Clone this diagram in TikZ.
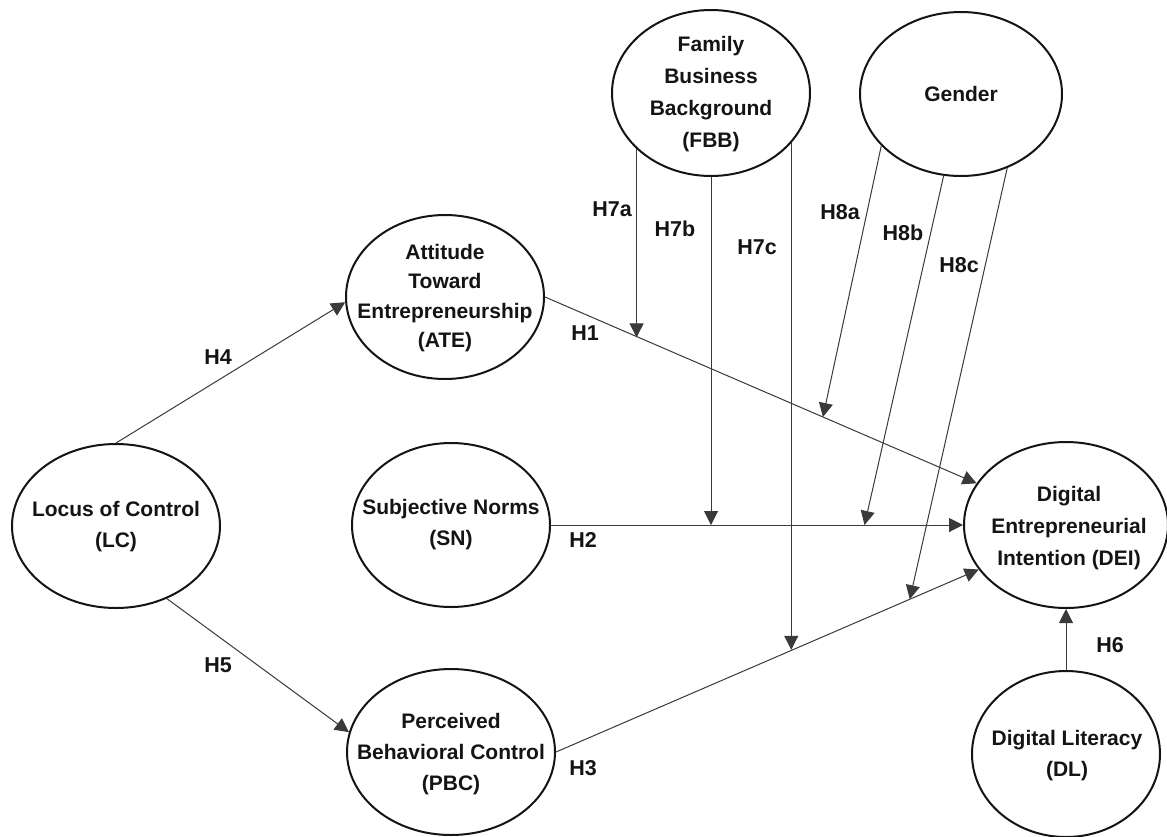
\documentclass[tikz,border=0pt]{standalone}
\usepackage{fontspec}
\setmainfont{Liberation Sans}
\usetikzlibrary{shapes.geometric,arrows.meta,calc}
\definecolor{ink}{HTML}{141414}
\definecolor{edgec}{HTML}{3A3A3A}
\begin{document}
\begin{tikzpicture}[x=1pt,y=-1pt,
  var/.style 2 args={draw=ink, line width=2pt, ellipse, inner sep=0pt,
    minimum width=#1, minimum height=#2},
  txt/.style={font=\fontsize{21}{31}\selectfont\bfseries, align=center, text=ink, inner sep=0pt},
  hl/.style={font=\fontsize{21.5}{25}\selectfont\bfseries, text=ink, inner sep=0pt},
  arr/.style={draw=edgec, line width=1pt, -{Triangle[length=14pt,width=14pt]}}]
\useasboundingbox[fill=white] (0,0) rectangle (1167,836);

% constructs
\node[var={208pt}{164pt}] (LC)  at (116,526) {};
\node[var={198pt}{164pt}] (ATE) at (445,297) {};
\node[var={198pt}{164pt}] (SN)  at (451,525) {};
\node[var={208pt}{166pt}] (PBC) at (451,752) {};
\node[var={198pt}{166pt}] (FBB) at (711,93) {};
\node[var={202pt}{164pt}] (GEN) at (961,94) {};
\node[var={204pt}{166pt}] (DEI) at (1066,525) {};
\node[var={188pt}{166pt}] (DL)  at (1066,754) {};

% texts
\node[txt] (LCt)  at (116,527) {Locus of Control\\(LC)};
\node[txt, font=\fontsize{21}{29.6}\selectfont\bfseries] (ATEt) at (445,298) {Attitude\\Toward\\Entrepreneurship\\(ATE)};
\node[txt] (SNt)  at (451,525) {Subjective Norms\\(SN)};
\node[txt] (PBCt) at (451,754) {Perceived\\Behavioral Control\\(PBC)};
\node[txt, font=\fontsize{21}{32}\selectfont\bfseries] (FBBt) at (711,94) {Family\\Business\\Background\\(FBB)};
\node[txt] (GENt) at (961,94) {Gender};
\node[txt, font=\fontsize{21}{32}\selectfont\bfseries] (DEIt) at (1069,528) {Digital\\Entrepreneurial\\Intention (DEI)};
\node[txt] (DLt)  at (1067,756) {Digital Literacy\\(DL)};

% direct paths
\draw[arr] (LC.north) -- (ATE.183);
\draw[arr] (LC.-55) -- (PBC.169);
\draw[arr] (ATE.east) -- coordinate[pos=0.217] (m7a) coordinate[pos=0.644] (m8a) (DEI.155);
\draw[arr] (SN.east) -- coordinate[pos=0.761] (m8b) (DEI.west);
\draw[arr] (PBC.east) -- coordinate[pos=0.560] (m7c) coordinate[pos=0.837] (m8c) (DEI.207);
\draw[arr] (DL.north) -- (DEI.south);

% moderation by FBB
\draw[arr] (FBB.217) -- (FBB.217 |- m7a);
\draw[arr] (FBB.south) -- (FBB.south |- SN.east);
\draw[arr] (FBB.-32) -- (FBB.-32 |- m7c);

% moderation by Gender
\draw[arr] (GEN.213) -- (m8a);
\draw[arr] (GEN.258) -- (m8b);
\draw[arr] (GEN.302) -- (m8c);

% labels
\node[hl] (H1) at (585,333) {H1};
\node[hl] (H2) at (583,540) {H2};
\node[hl] (H3) at (583,768) {H3};
\node[hl] (H4) at (218,357) {H4};
\node[hl] (H5) at (218,665) {H5};
\node[hl] (H6) at (1110,645) {H6};
\node[hl] (H7a) at (612,209) {H7a};
\node[hl] (H7b) at (675,229) {H7b};
\node[hl] (H7c) at (757,247) {H7c};
\node[hl] (H8a) at (840,212) {H8a};
\node[hl] (H8b) at (903,233) {H8b};
\node[hl] (H8c) at (959,265) {H8c};
\end{tikzpicture}
\end{document}
